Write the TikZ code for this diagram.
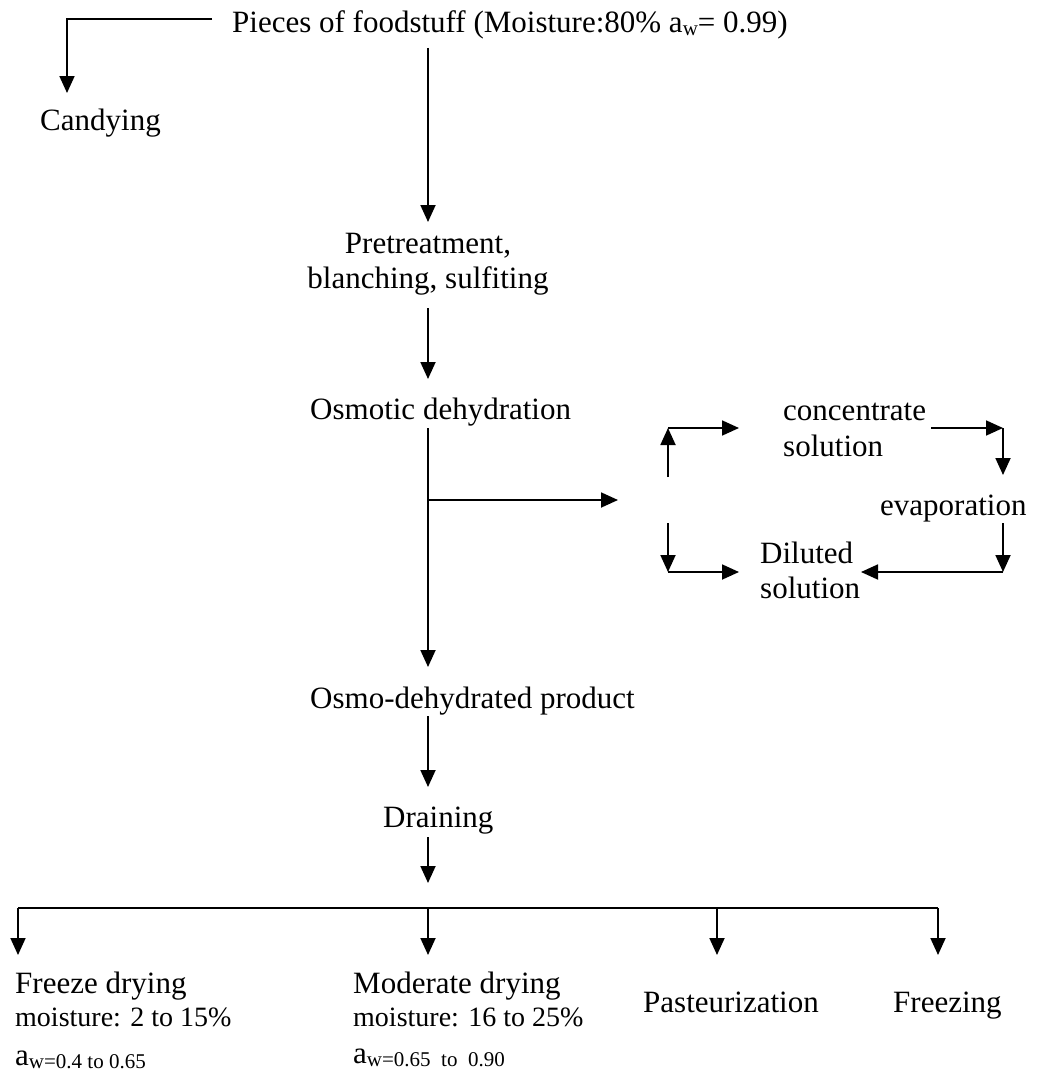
\documentclass[tikz,border=0pt]{standalone}
\usepackage{fontspec}
\setmainfont{Liberation Serif}
\usetikzlibrary{arrows.meta}
\newcommand{\subw}[1]{\raisebox{-3pt}{\fontsize{21}{24}\selectfont #1}}
\begin{document}
\begin{tikzpicture}[x=1pt,y=-1pt,
  txt/.style={inner sep=0pt,anchor=base west,font=\fontsize{31}{35}\selectfont},
  ctxt/.style={inner sep=0pt,anchor=base,font=\fontsize{31}{35}\selectfont},
  small/.style={inner sep=0pt,anchor=base west,font=\fontsize{28}{32}\selectfont},
  ln/.style={line width=1.8pt},
  arr/.style={line width=1.8pt,-{Triangle[length=17pt,width=15pt]}}]
\useasboundingbox (0,0) rectangle (1037,1073);
% texts
\node[txt] (pieces) at (232,33) {Pieces of foodstuff (Moisture:80\% a\subw{w}= 0.99)};
\node[txt] (candy) at (40,130) {Candying};
\node[ctxt] (pret) at (428,253) {Pretreatment,};
\node[ctxt] (blanch) at (428,288) {blanching, sulfiting};
\node[txt] (osmo) at (310,419) {Osmotic dehydration};
\node[txt] (conc) at (783,420) {concentrate};
\node[txt] (conc2) at (783,456) {solution};
\node[txt] (evap) at (880,515) {evaporation};
\node[txt] (dil) at (760,563) {Diluted};
\node[txt] (dil2) at (760,598) {solution};
\node[txt] (prod) at (310,708) {Osmo-dehydrated product};
\node[txt] (drain) at (383,827) {Draining};
\node[txt] (fd) at (15,993) {Freeze drying};
\node[small] (fdm) at (15,1026) {moisture: 2 to 15\%};
\node[txt] (fda) at (15,1065) {a\subw{w=0.4 to 0.65}};
\node[txt] (md) at (353,993) {Moderate drying};
\node[small] (mdm) at (353,1026) {moisture: 16 to 25\%};
\node[txt] (mda) at (353,1063) {a\subw{w=0.65\ \ to\ \ 0.90}};
\node[txt] (past) at (643,1012) {Pasteurization};
\node[txt] (frz) at (893,1012) {Freezing};
% coordinates
\coordinate (c1) at (212,19);
\coordinate (c2) at (67,19);
\coordinate (c3) at (67,93);
\coordinate (m0) at (428,48);
\coordinate (m1) at (428,222);
\coordinate (m2) at (428,308);
\coordinate (m3) at (428,379);
\coordinate (m4) at (428,428);
\coordinate (mb) at (428,500);
\coordinate (m5) at (428,667);
\coordinate (m6) at (428,716);
\coordinate (m7) at (428,787);
\coordinate (m8) at (428,837);
\coordinate (m9) at (428,883);
\coordinate (br) at (618,500);
\coordinate (lu0) at (668,477);
\coordinate (lu1) at (668,428);
\coordinate (lu2) at (739,428);
\coordinate (ld0) at (668,523);
\coordinate (ld1) at (668,572);
\coordinate (ld2) at (739,572);
\coordinate (r0) at (931,428);
\coordinate (r1) at (1003,428);
\coordinate (r2) at (1003,475);
\coordinate (r3) at (1003,523);
\coordinate (r4) at (1003,572);
\coordinate (r5) at (861,572);
\coordinate (b0) at (18,908);
\coordinate (b1) at (428,908);
\coordinate (b2) at (717,908);
\coordinate (b3) at (938,908);
% connectors
\draw[arr] (c1) -- (c2) -- (c3);
\draw[arr] (m0) -- (m1);
\draw[arr] (m2) -- (m3);
\draw[arr] (m4) -- (m5);
\draw[arr] (mb) -- (br);
\draw[arr] (lu0) -- (lu1);
\draw[arr] (lu1) -- (lu2);
\draw[arr] (ld0) -- (ld1);
\draw[arr] (ld1) -- (ld2);
\draw[arr] (r0) -- (r1);
\draw[arr] (r1) -- (r2);
\draw[arr] (r3) -- (r4);
\draw[arr] (r4) -- (r5);
\draw[arr] (m6) -- (m7);
\draw[arr] (m8) -- (m9);
\draw[ln] (b0) -- (b3);
\draw[arr] (b0) -- ++(0,47);
\draw[arr] (b1) -- ++(0,47);
\draw[arr] (b2) -- ++(0,47);
\draw[arr] (b3) -- ++(0,47);
\end{tikzpicture}
\end{document}
